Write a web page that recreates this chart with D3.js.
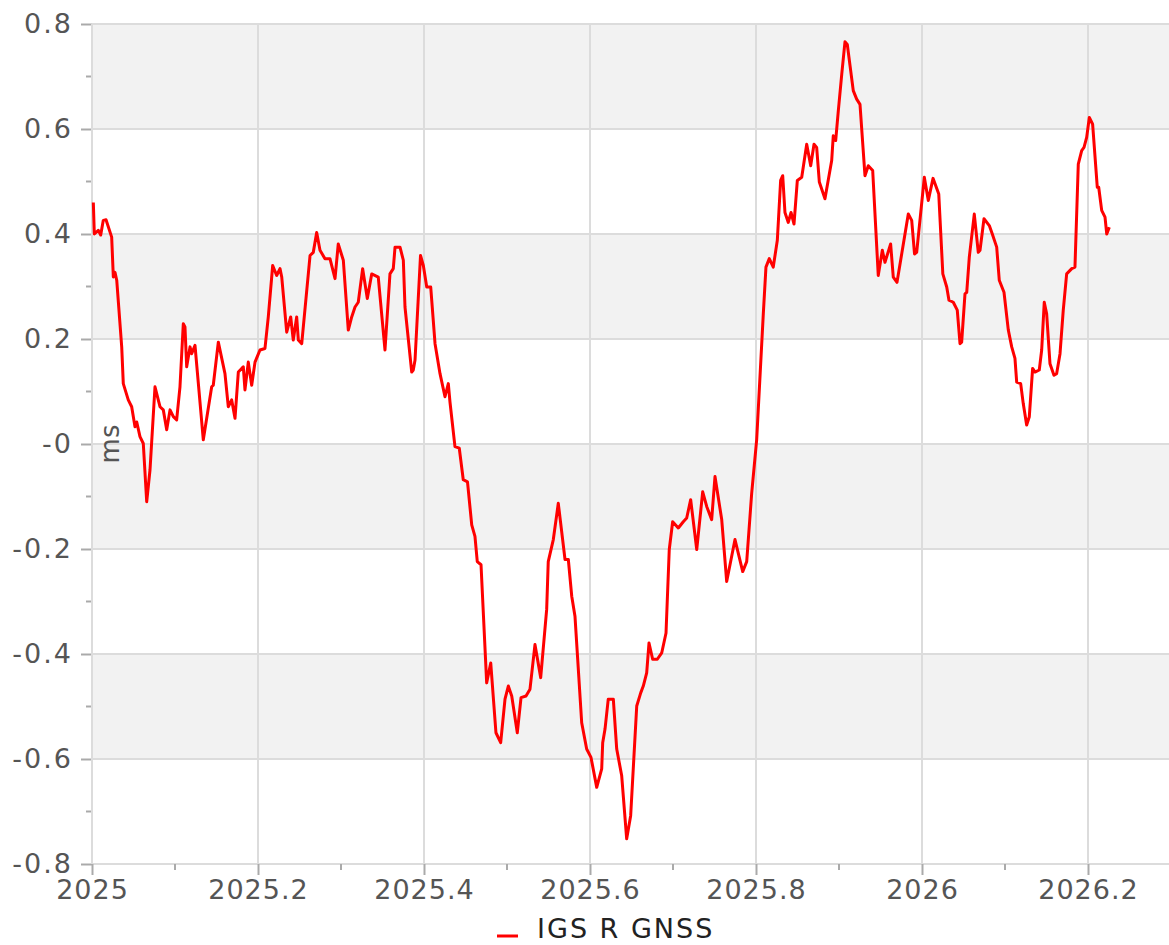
<!DOCTYPE html>
<html><head><meta charset="utf-8">
<script src="https://cdn.jsdelivr.net/npm/d3@7"></script>
<style>body{margin:0;background:#fff}svg{display:block}</style>
</head><body>
<script>
const seriesName = "IGS R GNSS";
const yUnit = "ms";
const xTicks = [2025, 2025.2, 2025.4, 2025.6, 2025.8, 2026, 2026.2];
const xTickLabels = ["2025", "2025.2", "2025.4", "2025.6", "2025.8", "2026", "2026.2"];
const yTicks = [0.8, 0.6, 0.4, 0.2, 0, -0.2, -0.4, -0.6, -0.8];
const yTickLabels = ["0.8", "0.6", "0.4", "0.2", "-0", "-0.2", "-0.4", "-0.6", "-0.8"];

const years = [
2025.0016,2025.0028,2025.0076,2025.0105,2025.0136,2025.0169,2025.0237,2025.0257,2025.0277,2025.0298,
2025.0358,2025.0377,2025.0437,2025.0478,2025.0518,2025.0539,2025.0578,2025.0618,2025.0659,2025.0699,
2025.0759,2025.0819,2025.0859,2025.0900,2025.0940,2025.0980,2025.1020,2025.1060,2025.1100,2025.1120,
2025.1141,2025.1181,2025.1201,2025.1241,2025.1341,2025.1442,2025.1461,2025.1522,2025.1602,2025.1642,
2025.1683,2025.1723,2025.1763,2025.1804,2025.1823,2025.1843,2025.1883,2025.1924,2025.1964,2025.2024,
2025.2084,2025.2124,2025.2177,2025.2225,2025.2265,2025.2286,2025.2346,2025.2394,2025.2425,2025.2466,
2025.2486,2025.2527,2025.2627,2025.2666,2025.2707,2025.2747,2025.2807,2025.2867,2025.2928,2025.2967,
2025.3028,2025.3088,2025.3129,2025.3169,2025.3208,2025.3261,2025.3317,2025.3370,2025.3449,2025.3530,
2025.3590,2025.3630,2025.3651,2025.3711,2025.3751,2025.3771,2025.3852,2025.3871,2025.3892,2025.3958,
2025.3992,2025.4033,2025.4081,2025.4133,2025.4193,2025.4253,2025.4293,2025.4313,2025.4373,2025.4425,
2025.4473,2025.4524,2025.4575,2025.4614,2025.4642,2025.4687,2025.4755,2025.4804,2025.4867,2025.4924,
2025.4976,2025.5016,2025.5057,2025.5124,2025.5169,2025.5229,2025.5277,2025.5337,2025.5406,2025.5478,
2025.5497,2025.5558,2025.5618,2025.5699,2025.5739,2025.5780,2025.5819,2025.5900,2025.5960,2025.6012,
2025.6081,2025.6141,2025.6153,2025.6181,2025.6220,2025.6281,2025.6322,2025.6382,2025.6442,2025.6490,
2025.6563,2025.6611,2025.6642,2025.6683,2025.6711,2025.6755,2025.6811,2025.6864,2025.6916,2025.6955,
2025.6996,2025.7064,2025.7124,2025.7165,2025.7213,2025.7286,2025.7358,2025.7406,2025.7466,2025.7506,
2025.7587,2025.7647,2025.7747,2025.7840,2025.7888,2025.7948,2025.8008,2025.8088,2025.8120,2025.8160,
2025.8208,2025.8257,2025.8297,2025.8322,2025.8349,2025.8389,2025.8422,2025.8458,2025.8498,2025.8551,
2025.8611,2025.8659,2025.8699,2025.8731,2025.8763,2025.8831,2025.8912,2025.8931,2025.8960,2025.8992,
2025.9033,2025.9072,2025.9100,2025.9172,2025.9213,2025.9253,2025.9313,2025.9353,2025.9406,2025.9473,
2025.9522,2025.9554,2025.9622,2025.9654,2025.9699,2025.9835,2025.9876,2025.9910,2025.9936,2026.0028,
2026.0076,2026.0133,2026.0202,2026.0251,2026.0298,2026.0325,2026.0377,2026.0425,2026.0458,2026.0478,
2026.0518,2026.0539,2026.0570,2026.0630,2026.0678,2026.0699,2026.0747,2026.0811,2026.0847,2026.0900,
2026.0931,2026.0988,2026.1040,2026.1081,2026.1120,2026.1141,2026.1189,2026.1220,2026.1261,2026.1293,
2026.1333,2026.1361,2026.1413,2026.1442,2026.1473,2026.1502,2026.1542,2026.1590,2026.1622,2026.1663,
2026.1702,2026.1743,2026.1804,2026.1843,2026.1883,2026.1924,2026.1952,2026.1984,2026.2016,2026.2056,
2026.2112,2026.2129,2026.2165,2026.2205,2026.2226,2026.2257
];
const offsetsMs = [
0.460,0.400,0.407,0.398,0.426,0.427,0.394,0.318,0.327,0.312,
0.185,0.115,0.084,0.071,0.033,0.042,0.014,0.001,-0.110,-0.049,
0.109,0.071,0.065,0.027,0.065,0.052,0.046,0.109,0.229,0.223,
0.147,0.185,0.172,0.188,0.008,0.109,0.112,0.194,0.134,0.071,
0.084,0.049,0.137,0.144,0.147,0.103,0.156,0.112,0.156,0.179,
0.182,0.242,0.340,0.321,0.334,0.318,0.213,0.242,0.198,0.242,
0.198,0.191,0.359,0.365,0.403,0.369,0.353,0.353,0.315,0.381,
0.350,0.217,0.242,0.261,0.270,0.334,0.277,0.324,0.318,0.179,
0.324,0.334,0.375,0.375,0.350,0.261,0.137,0.141,0.160,0.359,
0.340,0.299,0.299,0.191,0.134,0.090,0.115,0.080,-0.005,-0.008,
-0.068,-0.072,-0.154,-0.176,-0.224,-0.230,-0.455,-0.417,-0.550,-0.569,
-0.486,-0.461,-0.480,-0.550,-0.483,-0.480,-0.467,-0.382,-0.445,-0.315,
-0.224,-0.182,-0.113,-0.220,-0.220,-0.290,-0.328,-0.531,-0.581,-0.597,
-0.654,-0.619,-0.569,-0.543,-0.486,-0.486,-0.581,-0.632,-0.752,-0.708,
-0.499,-0.474,-0.461,-0.436,-0.379,-0.410,-0.410,-0.398,-0.360,-0.201,
-0.148,-0.160,-0.148,-0.141,-0.106,-0.201,-0.091,-0.119,-0.144,-0.062,
-0.144,-0.262,-0.182,-0.243,-0.224,-0.094,0.008,0.248,0.337,0.353,
0.337,0.388,0.502,0.511,0.441,0.422,0.441,0.419,0.502,0.508,
0.571,0.530,0.571,0.565,0.499,0.467,0.540,0.587,0.578,0.635,
0.704,0.766,0.761,0.673,0.657,0.647,0.511,0.530,0.521,0.321,
0.369,0.346,0.381,0.318,0.308,0.438,0.426,0.362,0.365,0.508,
0.464,0.506,0.476,0.324,0.299,0.274,0.270,0.255,0.191,0.194,
0.286,0.289,0.356,0.438,0.365,0.369,0.429,0.416,0.400,0.375,
0.312,0.289,0.217,0.185,0.163,0.118,0.115,0.077,0.036,0.052,
0.144,0.137,0.141,0.179,0.270,0.248,0.153,0.131,0.134,0.172,
0.255,0.324,0.334,0.337,0.533,0.559,0.565,0.584,0.622,0.609,
0.489,0.489,0.445,0.432,0.400,0.413
];

const W = 1169, H = 945;
const pLeft = 92, pRight = 1169, pTop = 24, pBottom = 864;
const svg = d3.select("body").append("svg").attr("width", W).attr("height", H);
const x = d3.scaleLinear().domain([2025, 2026.2976]).range([pLeft, pRight]);
const y = d3.scaleLinear().domain([-0.8, 0.8]).range([pBottom, pTop]);
const font = "'DejaVu Sans', Verdana, sans-serif";

// bands
const bands = [[0.6,0.8],[0.2,0.4],[-0.2,0],[-0.6,-0.4]];
svg.append("g").selectAll("rect").data(bands).join("rect")
  .attr("x", pLeft).attr("width", pRight-pLeft)
  .attr("y", d => y(d[1])).attr("height", d => y(d[0]) - y(d[1]))
  .attr("fill", "#f2f2f2");

// grid
const grid = svg.append("g").attr("stroke", "#dcdcdc").attr("stroke-width", 2);
grid.selectAll(".h").data(yTicks).join("line").attr("class","h")
  .attr("x1", pLeft).attr("x2", pRight).attr("y1", d => y(d)).attr("y2", d => y(d));
grid.selectAll(".v").data(xTicks).join("line").attr("class","v")
  .attr("y1", pTop).attr("y2", pBottom).attr("x1", d => x(d)).attr("x2", d => x(d));

// axes
const xAxis = d3.axisBottom(x).tickValues(xTicks).tickSize(11).tickFormat((d,i) => xTickLabels[i]);
const gx = svg.append("g").attr("transform", `translate(0,${pBottom})`).call(xAxis);
gx.select(".domain").remove();
gx.selectAll(".tick line").attr("stroke", "#aaa").attr("stroke-width", 2);
gx.selectAll("text").attr("fill", "#555").attr("font-size", 27).attr("letter-spacing", 1)
  .attr("font-family", font).attr("y", 8).attr("dy", "1.0em");
const minorX = [2025.1, 2025.3, 2025.5, 2025.7, 2025.9, 2026.1];
svg.append("g").selectAll("line").data(minorX).join("line")
  .attr("x1", d => x(d)).attr("x2", d => x(d)).attr("y1", pBottom).attr("y2", pBottom + 6)
  .attr("stroke", "#aaa").attr("stroke-width", 2);

const yAxis = d3.axisLeft(y).tickValues(yTicks).tickSize(11).tickPadding(8).tickFormat((d,i) => yTickLabels[i]);
const gy = svg.append("g").attr("transform", `translate(${pLeft},0)`).call(yAxis);
gy.select(".domain").remove();
gy.selectAll(".tick line").attr("stroke", "#aaa").attr("stroke-width", 2);
gy.selectAll("text").attr("fill", "#555").attr("font-size", 27).attr("letter-spacing", 2).attr("font-family", font);
const minorY = [0.7, 0.5, 0.3, 0.1, -0.1, -0.3, -0.5, -0.7];
svg.append("g").selectAll("line").data(minorY).join("line")
  .attr("x1", pLeft - 6).attr("x2", pLeft).attr("y1", d => y(d)).attr("y2", d => y(d))
  .attr("stroke", "#aaa").attr("stroke-width", 2);
svg.append("line").attr("x1", pLeft).attr("x2", pLeft).attr("y1", pTop).attr("y2", pBottom)
  .attr("stroke", "#dcdcdc").attr("stroke-width", 2);

// unit label
svg.append("text").attr("transform", `translate(119,${y(0)}) rotate(-90)`)
  .attr("text-anchor", "middle").attr("fill", "#555").attr("font-size", 26).attr("font-family", font)
  .text(yUnit);

// series
const pts = years.map((t, i) => [t, offsetsMs[i]]);
svg.append("path").datum(pts)
  .attr("d", d3.line().x(d => x(d[0])).y(d => y(d[1])))
  .attr("fill", "none").attr("stroke", "#ff0000").attr("stroke-width", 3)
  .attr("stroke-linejoin", "round");

// legend
const lg = svg.append("g");
lg.append("line").attr("x1", 497).attr("x2", 518).attr("y1", 936).attr("y2", 936)
  .attr("stroke", "#ff0000").attr("stroke-width", 3);
lg.append("text").attr("x", 537).attr("y", 938).attr("fill", "#222").attr("font-size", 27)
  .attr("letter-spacing", 2).attr("font-family", font).text(seriesName);
</script>
</body></html>
